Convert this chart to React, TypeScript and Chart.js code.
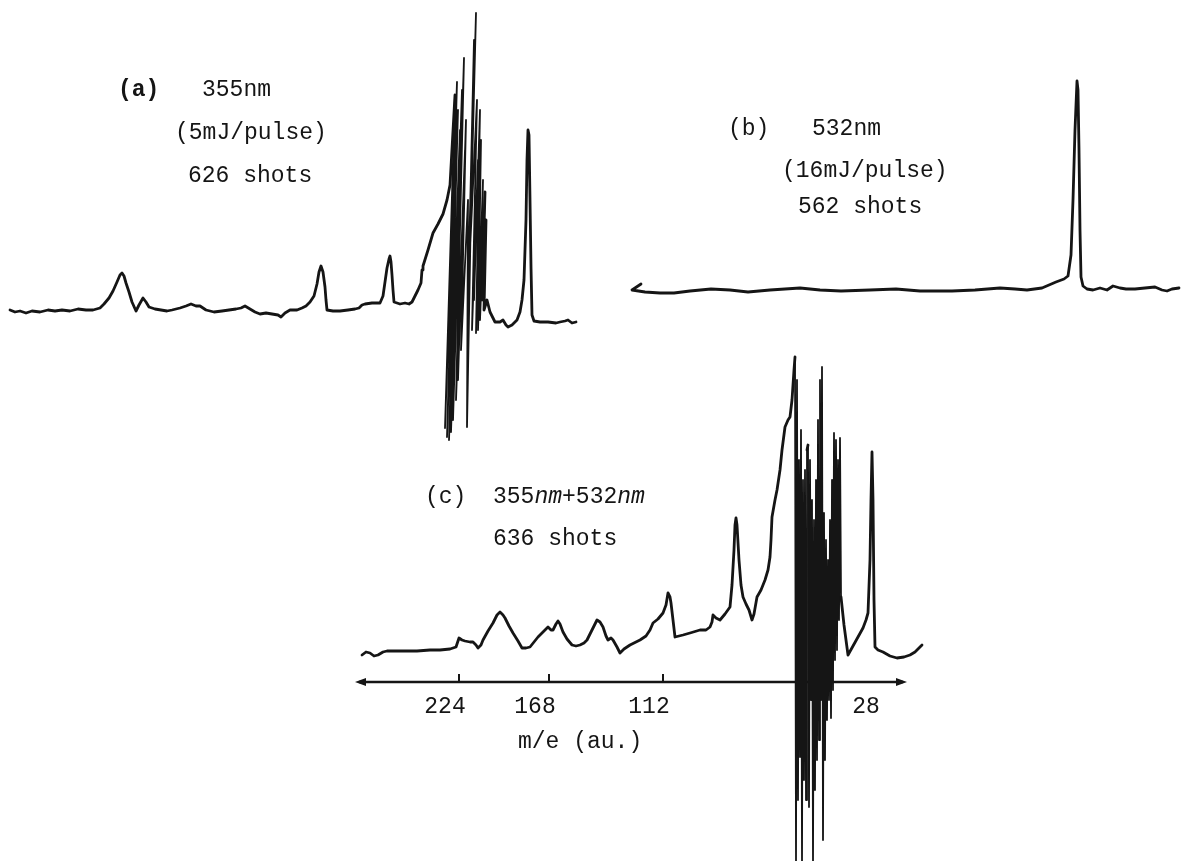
import React, { useEffect, useRef } from "react";
import { Chart, registerables } from "chart.js";

Chart.register(...registerables);

// Each trace: [flight-time channel, ion signal] (signal 0 = trace baseline).
// (a) 355 nm, 5 mJ/pulse, 626 shots
const traceA: [number, number][] = [
  [0, 1], [5, -1], [10, 0], [16, -2], [22, 0], [30, -1], [38, 1], [45, 0], [52, 1], [60, 0],
  [68, 2], [76, 1], [83, 1], [90, 3], [94, 7], [99, 13], [103, 20], [107, 29], [110, 36], [112, 38],
  [114, 35], [116, 28], [119, 19], [122, 9], [126, 0], [129, 6], [133, 13], [136, 9], [139, 4], [145, 2],
  [151, 1], [157, 0], [162, 1], [170, 3], [176, 5], [181, 7], [186, 5], [190, 5], [196, 1], [204, -1],
  [212, 0], [219, 1], [226, 2], [231, 3], [235, 5], [240, 2], [245, -1], [250, -3], [256, -2], [262, -3],
  [268, -4], [271, -6], [275, -2], [280, 1], [287, 1], [292, 3], [296, 5], [300, 9], [304, 15], [307, 27],
  [309, 39], [311, 45], [313, 39], [315, 24], [316, 11], [317, 1], [323, 0], [330, 0], [338, 1], [345, 2],
  [349, 3], [352, 6], [355, 7], [362, 8], [370, 8], [373, 15], [375, 29], [377, 43], [379, 52], [380, 55],
  [381, 49], [382, 36], [383, 21], [384, 9], [390, 7], [395, 8], [399, 7], [402, 9], [405, 15], [408, 21],
  [411, 28], [412, 41], [413, 45], [418, 61], [423, 78], [428, 87], [433, 97], [437, 111], [440, 126],
  [445, 216], [435, -117], [447, 229], [437, -126], [448, 201], [439, -129], [450, 181], [441, -121], [452, 221], [443, -109],
  [454, 253], [446, -89], [455, 161], [448, -69], [456, 191], [451, -39], [458, 111], [457, -116], [464, 271], [458, 11],
  [466, 298], [460, 61], [467, 211], [462, -19], [468, 151], [464, 11], [470, 201], [466, -22], [471, 171], [468, -19],
  [473, 131], [470, -9], [475, 119], [472, 11], [476, 91], [474, 1], [477, 11],
  [480, -1], [485, -11], [490, -11], [493, -9], [496, -14],
  [498, -16], [502, -14], [507, -9], [510, -1], [512, 11], [514, 31], [516, 91], [517, 151], [518, 181], [519, 176],
  [520, 111], [521, 44], [522, -4], [524, -10], [530, -11], [538, -11], [546, -12], [550, -11], [555, -10], [558, -9],
  [562, -12], [566, -11],
];

// (b) 532 nm, 16 mJ/pulse, 562 shots
const traceB: [number, number][] = [
  [9, 6], [0, 0], [13, -2], [28, -3], [42, -3], [58, -1], [79, 1], [98, 0], [116, -2], [138, 0],
  [168, 2], [188, 0], [209, -1], [238, 0], [264, 1], [288, -1], [320, -1], [343, 0], [368, 2], [383, 1],
  [395, 0], [410, 2], [424, 8], [432, 11], [436, 14], [439, 35], [441, 90], [443, 160], [445, 209], [446, 200],
  [447, 140], [448, 60], [449, 13], [451, 4], [455, 1], [461, 0], [468, 2], [475, 0], [481, 4], [488, 2],
  [494, 1], [503, 1], [513, 2], [523, 3], [530, 0], [535, -1], [540, 1], [547, 2],
];

// (c) 355 nm + 532 nm, 636 shots
const traceC: [number, number][] = [
  [7, 27], [11, 30], [15, 29], [19, 26], [23, 27], [28, 30], [32, 31], [40, 31], [50, 31], [62, 31],
  [75, 32], [85, 32], [95, 33], [101, 35], [104, 44], [107, 42], [110, 41], [115, 40], [118, 40], [121, 37],
  [123, 34], [126, 37], [128, 42], [133, 51], [138, 59], [142, 67], [145, 70], [148, 67], [150, 64], [154, 56],
  [158, 49], [163, 41], [167, 34], [171, 34], [175, 35], [179, 40], [183, 45], [188, 50], [193, 55], [196, 52],
  [198, 52], [201, 58], [203, 61], [205, 58], [208, 50], [212, 43], [217, 37], [221, 36], [225, 37], [229, 39],
  [232, 42], [237, 52], [242, 62], [245, 60], [248, 55], [251, 46], [253, 42], [256, 44], [258, 42], [262, 35],
  [265, 29], [269, 33], [275, 37], [281, 40], [285, 42], [291, 46], [295, 52], [298, 59], [303, 63], [308, 69],
  [311, 77], [313, 89], [315, 85], [316, 79], [318, 62], [320, 45], [328, 47], [335, 49], [345, 52], [351, 52],
  [355, 55], [357, 60], [358, 67], [361, 64], [365, 62], [370, 68], [375, 75], [377, 97], [379, 132], [380, 157],
  [381, 164], [382, 157], [384, 122], [386, 97], [388, 85], [391, 78], [394, 72], [397, 62], [399, 68], [402, 85],
  [406, 92], [410, 102], [413, 112], [415, 125], [416, 142], [417, 165], [420, 182], [422, 192], [425, 212], [427, 232],
  [430, 255], [433, 262], [435, 265], [437, 282], [439, 312], [440, 325],
  [441, -179], [442, 302], [443, -118], [444, 222], [445, -75], [446, 252], [447, -179], [448, 202], [449, -98], [450, 212],
  [451, -118], [452, 232], [453, 237], [454, -125], [455, 222], [456, -18], [457, 182], [458, -179], [459, 162], [460, -108],
  [461, 202], [462, -78], [463, 262], [464, -58], [465, 302], [466, -18], [467, 315], [468, -158], [469, 169], [470, -78],
  [471, 142], [472, -38], [473, 122], [474, -18], [475, 162], [476, -36], [477, 202], [478, -8], [479, 249], [480, 22],
  [481, 242], [482, 32], [483, 222], [484, 62], [485, 244], [486, 85],
  [489, 57], [493, 27], [498, 36], [503, 45], [508, 54], [511, 62], [513, 69], [515, 122], [516, 182], [517, 230],
  [518, 182], [519, 82], [520, 35], [523, 32], [528, 30], [535, 26], [542, 24], [549, 25], [555, 27], [560, 30],
  [564, 34], [567, 37],
];

// m/e axis of (c): tick channels and their mass labels
const massTickChannels = [104, 194, 308, 525];
const massTickLabels = ["224", "168", "112", "28"];
const massTickMarked = [true, true, true, false];
const axisChannelRange = [0, 552];

const INK = "#151515";
const MONO = "'Liberation Mono', 'DejaVu Sans Mono', monospace";

const massAxisPlugin = {
  id: "massAxis",
  beforeDatasetsDraw(chart: any) {
    const xs = chart.scales.xC;
    const ys = chart.scales.yC;
    const ctx = chart.ctx;
    const y0 = ys.getPixelForValue(0);
    const x0 = xs.getPixelForValue(axisChannelRange[0]);
    const x1 = xs.getPixelForValue(axisChannelRange[1]);
    ctx.save();
    ctx.strokeStyle = INK;
    ctx.fillStyle = INK;
    ctx.lineWidth = 2.6;
    ctx.beginPath();
    ctx.moveTo(x0 + 4, y0);
    ctx.lineTo(x1 - 4, y0);
    ctx.stroke();
    ctx.beginPath();
    ctx.moveTo(x0, y0);
    ctx.lineTo(x0 + 11, y0 - 4);
    ctx.lineTo(x0 + 11, y0 + 4);
    ctx.closePath();
    ctx.fill();
    ctx.beginPath();
    ctx.moveTo(x1, y0);
    ctx.lineTo(x1 - 11, y0 - 4);
    ctx.lineTo(x1 - 11, y0 + 4);
    ctx.closePath();
    ctx.fill();
    ctx.lineWidth = 2;
    massTickChannels.forEach((v, i) => {
      if (!massTickMarked[i]) return;
      const px = xs.getPixelForValue(v);
      ctx.beginPath();
      ctx.moveTo(px, y0);
      ctx.lineTo(px, y0 - 8);
      ctx.stroke();
    });
    ctx.restore();
  },
};

const toPoints = (t: [number, number][]) => t.map(([x, y]) => ({ x, y }));

const lineStyle = {
  borderColor: INK,
  borderWidth: 2.8,
  pointRadius: 0,
  tension: 0,
  fill: false,
  borderJoinStyle: "round" as const,
  borderCapStyle: "round" as const,
  clip: false as any,
  segment: {
    borderWidth: (ctx: any) => (Math.abs(ctx.p1.parsed.y - ctx.p0.parsed.y) > 120 ? 1.8 : 2.8),
  },
};

const hidden = (min: number, max: number, axis: "x" | "y") => ({
  type: "linear" as const,
  axis,
  display: false,
  min,
  max,
});

export default function App() {
  const ref = useRef<HTMLCanvasElement>(null);

  useEffect(() => {
    const chart = new Chart(ref.current as HTMLCanvasElement, {
      type: "line",
      data: {
        datasets: [
          { ...lineStyle, label: "(a)", data: toPoints(traceA), xAxisID: "xA", yAxisID: "yA" },
          { ...lineStyle, label: "(b)", data: toPoints(traceB), xAxisID: "xB", yAxisID: "yB" },
          { ...lineStyle, label: "(c)", data: toPoints(traceC), xAxisID: "xC", yAxisID: "yC" },
        ] as any,
      },
      options: {
        animation: false,
        responsive: false,
        maintainAspectRatio: false,
        devicePixelRatio: 1,
        events: [],
        layout: { padding: 0 },
        plugins: { legend: { display: false }, tooltip: { enabled: false }, title: { display: false } },
        scales: {
          xA: hidden(-10, 1171, "x"),
          yA: hidden(-550, 311, "y"),
          xB: hidden(-632, 549, "x"),
          yB: hidden(-571, 290, "y"),
          yC: hidden(-179, 682, "y"),
          xC: {
            type: "linear",
            axis: "x",
            display: true,
            min: -355,
            max: 826,
            position: { yC: 0 } as any,
            grid: { display: false, drawTicks: false },
            border: { display: false },
            afterBuildTicks: (scale: any) => {
              scale.ticks = massTickChannels.map((v) => ({ value: v }));
            },
            ticks: {
              autoSkip: false,
              maxRotation: 0,
              padding: 11,
              labelOffset: -14,
              color: INK,
              font: { family: "Liberation Mono", size: 23 },
              callback: (_v: any, i: number) => massTickLabels[i],
            },
          } as any,
        },
      },
      plugins: [massAxisPlugin],
    });
    return () => chart.destroy();
  }, []);

  const txt = (left: number, top: number, extra: React.CSSProperties = {}): React.CSSProperties => ({
    position: "absolute",
    left,
    top,
    fontFamily: MONO,
    fontSize: 23,
    lineHeight: "26px",
    whiteSpace: "pre",
    color: INK,
    ...extra,
  });

  return (
    <div style={{ position: "absolute", left: 0, top: 0, width: 1181, height: 861, background: "#fff", overflow: "hidden" }}>
      <canvas ref={ref} width={1181} height={861} style={{ position: "absolute", left: 0, top: 0 }} />
      <div style={txt(118, 77, { fontWeight: "bold" })}>(a)</div>
      <div style={txt(202, 77)}>355nm</div>
      <div style={txt(175, 120)}>(5mJ/pulse)</div>
      <div style={txt(188, 163)}>626 shots</div>
      <div style={txt(728, 116)}>(b)</div>
      <div style={txt(812, 116)}>532nm</div>
      <div style={txt(782, 158)}>(16mJ/pulse)</div>
      <div style={txt(798, 194)}>562 shots</div>
      <div style={txt(425, 484)}>(c)</div>
      <div style={txt(493, 484)}>
        355<i>nm</i>+532<i>nm</i>
      </div>
      <div style={txt(493, 526)}>636 shots</div>
      <div style={txt(518, 729)}>m/e (au.)</div>
    </div>
  );
}
